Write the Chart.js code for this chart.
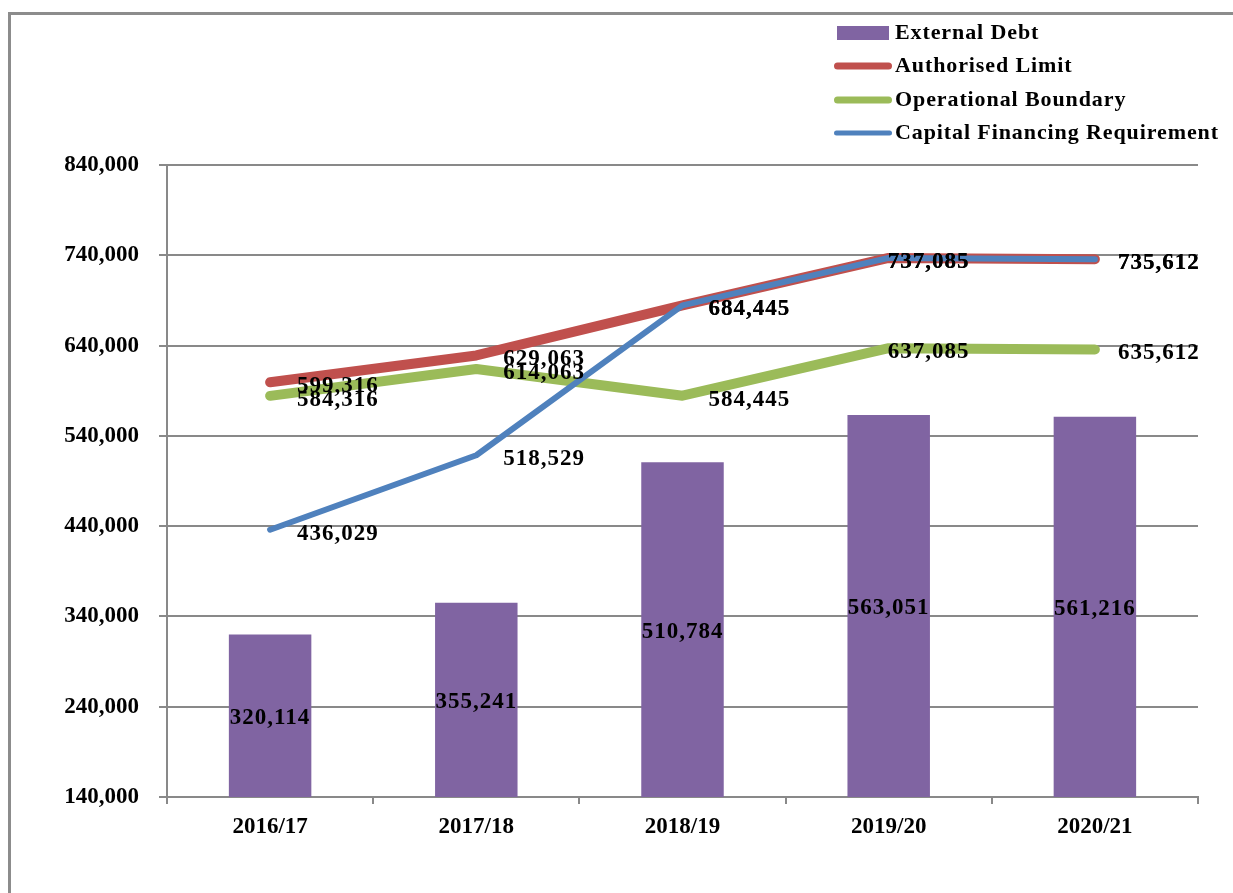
<!DOCTYPE html>
<html>
<head>
<meta charset="utf-8">
<script src="https://cdn.jsdelivr.net/npm/chart.js@4.4.1/dist/chart.umd.min.js"></script>
<style>
  html, body { margin: 0; padding: 0; background: #fff; }
  #wrap { position: relative; width: 1233px; height: 893px; overflow: hidden; }
  #frame { position: absolute; left: 8px; top: 12px; width: 1300px; height: 1000px;
           border-left: 3px solid #8c8c8c; border-top: 3px solid #8c8c8c; }
  canvas { position: absolute; left: 0; top: 0; }
  #legend { position: absolute; left: 834px; top: 16px; font: bold 22px "Liberation Serif", "Times New Roman", serif;
            letter-spacing: 0.9px; color: #000; }
  .row { position: relative; height: 33.5px; }
  .sw { position: absolute; left: 0; top: 50%; transform: translateY(-50%); }
  .txt { position: absolute; left: 61px; top: 50%; transform: translateY(-52%); white-space: nowrap; }
</style>
</head>
<body>
<div id="wrap">
  <div id="frame"></div>
  <canvas id="debt" width="1233" height="893"></canvas>
  <div id="legend"></div>
</div>
<script>
// values
var years = ['2016/17', '2017/18', '2018/19', '2019/20', '2020/21'];
var externalDebt = [320114, 355241, 510784, 563051, 561216];
var authorisedLimit = [599316, 629063, 684445, 737085, 735612];
var operationalBoundary = [584316, 614063, 584445, 637085, 635612];
var capitalFinancing = [436029, 518529, 684445, 737085, 735612];

// label nudges to the right of each point (px), like the original
var labelDx = [27, 27, 26, -1, 23];

var fmt = function(v) { return v.toLocaleString('en-US'); };
var serif = '"Liberation Serif", "Times New Roman", serif';

var valueLabels = {
  id: 'valueLabels',
  afterDatasetsDraw: function(chart) {
    var ctx = chart.ctx;
    var bottom = chart.chartArea.bottom;
    ctx.save();
    ctx.font = 'bold 23px ' + serif;
    ctx.fillStyle = '#000';
    ctx.textBaseline = 'middle';
    if ('letterSpacing' in ctx) ctx.letterSpacing = '1px';
    chart.data.datasets.forEach(function(ds, di) {
      var meta = chart.getDatasetMeta(di);
      meta.data.forEach(function(el, i) {
        var txt = fmt(ds.data[i]);
        if (ds.type === 'bar') {
          ctx.textAlign = 'center';
          ctx.fillText(txt, el.x, (el.y + Math.min(el.base, bottom)) / 2 + 2);
        } else {
          ctx.textAlign = 'left';
          ctx.fillText(txt, el.x + labelDx[i], el.y + 4);
        }
      });
    });
    ctx.restore();
  }
};

var grey = '#898989';

var chart = new Chart('debt', {
  data: {
    labels: years,
    datasets: [
      { type: 'bar', label: 'External Debt', data: externalDebt, backgroundColor: '#8064A2',
        barPercentage: 0.4, categoryPercentage: 1, order: 4 },
      { type: 'line', label: 'Authorised Limit', data: authorisedLimit, borderColor: '#C0504D',
        borderWidth: 10, pointRadius: 0, borderCapStyle: 'round', borderJoinStyle: 'round', order: 3 },
      { type: 'line', label: 'Operational Boundary', data: operationalBoundary, borderColor: '#9BBB59',
        borderWidth: 10, pointRadius: 0, borderCapStyle: 'round', borderJoinStyle: 'round', order: 2 },
      { type: 'line', label: 'Capital Financing Requirement', data: capitalFinancing, borderColor: '#4F81BD',
        borderWidth: 6, pointRadius: 0, borderCapStyle: 'round', borderJoinStyle: 'round', order: 1 }
    ]
  },
  options: {
    responsive: false,
    animation: false,
    layout: { padding: { top: 165, right: 35, bottom: 0, left: 0 } },
    plugins: { legend: { display: false }, tooltip: { enabled: false } },
    scales: {
      x: {
        offset: true,
        afterFit: function(s) { s.height = 96; },
        border: { color: grey, width: 2 },
        grid: { drawOnChartArea: false, drawTicks: true, tickLength: 7, color: grey, lineWidth: 2 },
        ticks: { color: '#000', padding: 9, font: { family: serif, size: 23, weight: 'bold' } }
      },
      y: {
        min: 140000, max: 840000,
        afterFit: function(s) { s.width = 167; },
        border: { color: grey, width: 2 },
        grid: { color: grey, lineWidth: 2, tickLength: 8 },
        ticks: { stepSize: 100000, color: '#000', padding: 20,
                 font: { family: serif, size: 23, weight: 'bold' },
                 callback: function(v) { return fmt(v); } }
      }
    }
  },
  plugins: [valueLabels]
});

// legend stacked in the top right, as in the original
var legend = document.getElementById('legend');
chart.data.datasets.forEach(function(ds) {
  var row = document.createElement('div');
  row.className = 'row';
  var sw = document.createElement('div');
  sw.className = 'sw';
  if (ds.type === 'bar') {
    sw.style.cssText += 'left:3px;width:52px;height:14px;background:' + ds.backgroundColor;
  } else {
    sw.style.cssText += 'width:58px;height:' + (ds.borderWidth > 7 ? 7 : 5) + 'px;border-radius:4px;background:' + ds.borderColor;
  }
  var t = document.createElement('div');
  t.className = 'txt';
  t.textContent = ds.label;
  row.appendChild(sw);
  row.appendChild(t);
  legend.appendChild(row);
});
</script>
</body>
</html>
